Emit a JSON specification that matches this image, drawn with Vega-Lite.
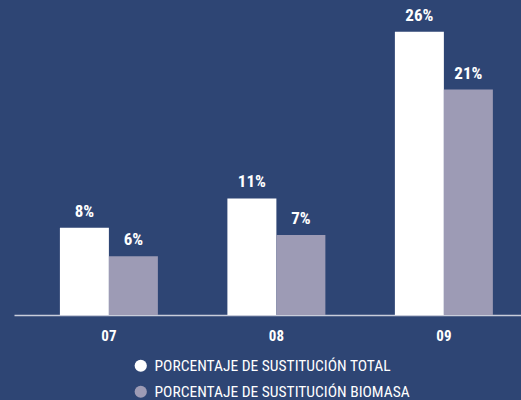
{
  "$schema": "https://vega.github.io/schema/vega-lite/v6.json",
  "width": 507,
  "height": 305,
  "autosize": {"type": "none"},
  "padding": {"left": 14, "top": 10, "right": 0, "bottom": 85},
  "background": "#2E4574",
  "config": {
    "view": {"stroke": null},
    "font": "Liberation Sans Narrow, Roboto Condensed, DejaVu Sans Condensed, sans-serif"
  },
  "data": {
    "values": [
      {"year": "07", "serie": "PORCENTAJE DE SUSTITUCIÓN TOTAL", "value": 8.0, "label": "8%"},
      {"year": "07", "serie": "PORCENTAJE DE SUSTITUCIÓN BIOMASA", "value": 5.4, "label": "6%"},
      {"year": "08", "serie": "PORCENTAJE DE SUSTITUCIÓN TOTAL", "value": 10.7, "label": "11%"},
      {"year": "08", "serie": "PORCENTAJE DE SUSTITUCIÓN BIOMASA", "value": 7.35, "label": "7%"},
      {"year": "09", "serie": "PORCENTAJE DE SUSTITUCIÓN TOTAL", "value": 26.0, "label": "26%"},
      {"year": "09", "serie": "PORCENTAJE DE SUSTITUCIÓN BIOMASA", "value": 20.7, "label": "21%"}
    ]
  },
  "encoding": {
    "x": {
      "field": "year",
      "type": "nominal",
      "scale": {"paddingInner": 0.415, "paddingOuter": 0.221, "align": 0.62},
      "axis": {
        "title": null,
        "labelAngle": 0,
        "ticks": false,
        "domain": true,
        "domainColor": "#C9CDDB",
        "domainWidth": 1.5,
        "labelColor": "#FFFFFF",
        "labelFontWeight": "bold",
        "labelFontSize": 15,
        "labelPadding": 13
      }
    },
    "xOffset": {
      "field": "serie",
      "type": "nominal",
      "sort": ["PORCENTAJE DE SUSTITUCIÓN TOTAL", "PORCENTAJE DE SUSTITUCIÓN BIOMASA"],
      "scale": {"paddingInner": 0, "paddingOuter": 0}
    },
    "y": {
      "field": "value",
      "type": "quantitative",
      "scale": {"domain": [0, 28]},
      "axis": null
    }
  },
  "layer": [
    {
      "mark": {"type": "bar"},
      "encoding": {
        "color": {
          "field": "serie",
          "type": "nominal",
          "sort": ["PORCENTAJE DE SUSTITUCIÓN TOTAL", "PORCENTAJE DE SUSTITUCIÓN BIOMASA"],
          "scale": {"range": ["#FFFFFF", "#9D9BB5"]},
          "legend": {
            "title": null,
            "orient": "none",
            "legendX": 119,
            "legendY": 348,
            "symbolType": "circle",
            "symbolSize": 150,
            "symbolStrokeWidth": 0,
            "symbolOpacity": 1,
            "labelColor": "#FFFFFF",
            "labelFontSize": 15.5,
            "labelLimit": 400,
            "rowPadding": 9,
            "labelOffset": 6
          }
        }
      }
    },
    {
      "mark": {"type": "text", "baseline": "bottom", "dy": -7, "fontWeight": "bold", "fontSize": 17, "color": "#FFFFFF"},
      "encoding": {"text": {"field": "label"}}
    }
  ]
}
